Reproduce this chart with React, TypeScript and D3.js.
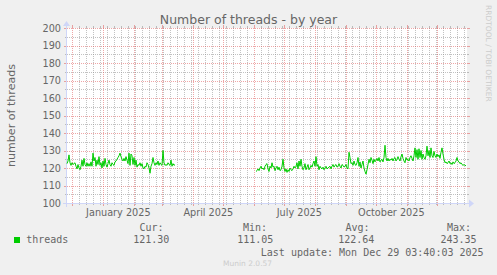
import React from "react";
import * as d3 from "d3";

const W = 497;
const H = 275;
const title = "Number of threads - by year";
const yTitle = "number of threads";
const seriesName = "threads";
const watermark = "RRDTOOL / TOBI OETIKER";
const version = "Munin 2.0.57";
const lastUpdate = "Last update: Mon Dec 29 03:40:03 2025";

const rangeStart = "2024-11-25T16:00:00Z";
const rangeEnd = "2025-12-30T16:00:00Z";

const seg1Start = "2024-11-25T16:00:00Z";
const seg1Values = [
  122.5, 124, 127.5, 123, 121.5, 123, 122, 122.5, 123, 121,
  119.5, 122, 120, 119, 121, 124.5, 121, 125.5, 122, 121,
  123, 121, 122.5, 121, 123.5, 121, 128.5, 124, 126, 121,
  124.5, 122, 126.5, 121.5, 123, 120, 124, 121, 125.5, 122,
  120.5, 122.5, 124.5, 122, 121, 123, 122, 121.5, 123.5, 124,
  125, 126, 127, 128.5, 126.5, 125, 124, 125.5, 124, 126.5,
  124.5, 122.5, 128.5, 121.5, 128, 127, 122, 126, 121.5, 124.5,
  120.5, 122, 121.5, 123, 121, 122.5, 120, 119.5, 121, 120.5,
  123, 122, 120, 117, 121, 122.5, 126, 123, 121.5, 123,
  122, 124, 121.5, 123, 122, 121.5, 130, 123, 121.5, 122,
  121.5, 123, 122, 121.5, 124.5, 121, 122.5, 121.5, 122,
];

const seg2Start = "2025-06-02T16:00:00Z";
const seg2Values = [
  118, 118.5, 119.5, 118.5, 120, 121, 119.5, 120, 119, 121,
  122, 122.5, 119.5, 118, 121, 120, 123, 120.5, 121, 118.5,
  120, 121, 119, 120.5, 118.5, 119, 121, 125, 120, 118,
  119.5, 117.5, 119, 118, 120, 119, 118.5, 119.5, 121, 120,
  121, 123, 119.5, 124, 121, 125, 121, 119, 120, 122.5,
  119, 120.5, 122, 119, 120, 121.5, 120.5, 122.5, 124, 121,
  126.5, 121, 122, 119, 121, 120, 119.5, 120.5, 119, 120,
  121, 119.5, 120, 120.5, 121, 119.5, 121, 122, 120.5, 121.5,
  122, 120.5, 121, 122.5, 121, 120, 122, 121.5, 120.5, 121,
  122, 120, 119.5, 129, 126, 122.5, 123, 121.5, 124, 122,
  121.5, 123, 126, 121, 123.5, 120, 122, 124, 120, 118,
  116.5, 119, 122, 125, 123, 126, 124.5, 122.5, 125, 123.5,
  124.5, 125.5, 124, 126, 123.5, 124.5, 125, 123.5, 126, 133,
  126, 124, 125.5, 124, 125, 124.5, 125.5, 124, 125.5, 126,
  124, 125, 126.5, 125, 124, 126.5, 128, 125.5, 124, 123,
  126, 124.5, 125, 124, 126, 127, 125.5, 124, 127, 131.5,
  126, 130.5, 125, 131, 126, 130, 125, 128, 126, 125,
  127, 132.5, 127, 130, 126, 131.5, 127, 126, 129.5, 127,
  126, 128, 126.5, 127.5, 125.5, 129, 131.5, 128, 125, 123,
  123.5, 122.5, 123, 124, 122.5, 123, 122, 123.5, 122.5, 123,
  124, 126, 124, 123.5, 122.5, 123, 122, 121.5, 122, 121.5,
  121.3,
];

const yMin = 100;
const yMax = 200;
const yMajorStep = 10;
const yMinorStep = 5;

const xLabelDates = ["2025-01-16T00:00:00Z", "2025-04-16T00:00:00Z", "2025-07-16T00:00:00Z", "2025-10-16T00:00:00Z"];
const xLabelTexts = ["January 2025", "April 2025", "July 2025", "October 2025"];

const legendHeaders = ["Cur:", "Min:", "Avg:", "Max:"];
const legendValues = ["121.30", "111.05", "122.64", "243.35"];
const legendHeaderX = [139.5, 243, 345.5, 447];
const legendValueX = [133.2, 237.2, 338.2, 440.4];

const X0 = 67;
const X1 = 467;
const Y0 = 203;
const Y1 = 28;

const SANS = "'DejaVu Sans', sans-serif";
const MONO = "'DejaVu Sans Mono', monospace";
const FONT_COLOR = "#666666";
const AXIS_COLOR = "#CFD6F8";
const MINOR = "rgba(143,143,143,0.55)";
const MAJOR = "rgba(222,79,79,0.5)";
const LINE_COLOR = "#00CC00";

type Pt = { t: Date; v: number | null };

function buildSeries(): Pt[] {
  const day = 86400000;
  const out: Pt[] = [];
  const s1 = new Date(seg1Start).getTime();
  seg1Values.forEach((v, i) => out.push({ t: new Date(s1 + i * day), v }));
  out.push({ t: new Date(s1 + seg1Values.length * day), v: null });
  const s2 = new Date(seg2Start).getTime();
  seg2Values.forEach((v, i) => out.push({ t: new Date(s2 + i * day), v }));
  return out;
}

export default function App() {
  const x = d3.scaleUtc().domain([new Date(rangeStart), new Date(rangeEnd)]).range([X0, X1]);
  const y = d3.scaleLinear().domain([yMin, yMax]).range([Y0, Y1]);
  const data = buildSeries();
  const line = d3
    .line<Pt>()
    .defined((d) => d.v !== null)
    .x((d) => x(d.t))
    .y((d) => y(d.v as number));

  const snap = (v: number) => Math.round(v) + 0.5;

  const yMinorTicks = d3.range(yMin, yMax + 0.001, yMinorStep).filter((v) => v % yMajorStep !== 0);
  const yMajorTicks = d3.range(yMin, yMax + 0.001, yMajorStep);

  const start = new Date(rangeStart);
  const end = new Date(rangeEnd);
  const months = d3.utcMonth.range(start, end);
  const monthSet = new Set(months.map((d) => d.getTime()));
  const weeks = d3.utcSunday.range(start, end).filter((d) => !monthSet.has(d.getTime()));

  const yb = snap(Y0);

  return (
    <svg
      width={W}
      height={H}
      style={{ position: "fixed", left: 0, top: 0, display: "block" }}
      xmlns="http://www.w3.org/2000/svg"
    >
      <rect x={0} y={0} width={W} height={H} fill="#F0F0F0" />
      <rect x={X0} y={Y1} width={X1 - X0} height={Y0 - Y1} fill="#FFFFFF" />

      {/* minor horizontal grid */}
      {yMinorTicks.map((v) => {
        const yy = snap(y(v));
        return (
          <g key={"hm" + v} shapeRendering="crispEdges">
            <line x1={X0} x2={X1} y1={yy} y2={yy} stroke={MINOR} strokeDasharray="1,1" />
            <line x1={X0 - 2} x2={X0} y1={yy} y2={yy} stroke={MINOR} />
            <line x1={X1} x2={X1 + 2} y1={yy} y2={yy} stroke={MINOR} />
          </g>
        );
      })}
      {/* minor vertical grid */}
      {weeks.map((d) => {
        const xx = snap(x(d));
        return (
          <g key={"vm" + d.getTime()} shapeRendering="crispEdges">
            <line x1={xx} x2={xx} y1={Y1} y2={Y0} stroke={MINOR} strokeDasharray="1,1" />
            <line x1={xx} x2={xx} y1={Y0} y2={Y0 + 2} stroke={MINOR} />
            <line x1={xx} x2={xx} y1={Y1 - 2} y2={Y1} stroke={MINOR} />
          </g>
        );
      })}
      {/* major horizontal grid */}
      {yMajorTicks.map((v) => {
        const yy = snap(y(v));
        return (
          <g key={"hM" + v} shapeRendering="crispEdges">
            <line x1={X0} x2={X1} y1={yy} y2={yy} stroke={MAJOR} strokeDasharray="1,1" />
            <line x1={X0 - 3} x2={X0} y1={yy} y2={yy} stroke={MAJOR} />
            <line x1={X1} x2={X1 + 3} y1={yy} y2={yy} stroke={MAJOR} />
          </g>
        );
      })}
      {/* major vertical grid */}
      {months.map((d) => {
        const xx = snap(x(d));
        return (
          <g key={"vM" + d.getTime()} shapeRendering="crispEdges">
            <line x1={xx} x2={xx} y1={Y1} y2={Y0} stroke={MAJOR} strokeDasharray="1,1" />
            <line x1={xx} x2={xx} y1={Y0} y2={Y0 + 3} stroke={MAJOR} />
            <line x1={xx} x2={xx} y1={Y1 - 3} y2={Y1} stroke={MAJOR} />
          </g>
        );
      })}

      {/* axes */}
      <g shapeRendering="crispEdges">
        <line x1={X0 - 4} x2={X1 + 3} y1={yb} y2={yb} stroke={AXIS_COLOR} />
        <line x1={snap(X0) - 1} x2={snap(X0) - 1} y1={Y0 + 4} y2={Y1 - 4} stroke={AXIS_COLOR} />
      </g>
      <path
        d={`M${X1 + 2},${Y0 - 3.5} L${X1 + 2},${Y0 + 4.5} L${X1 + 7},${Y0 + 0.5} Z`}
        fill={AXIS_COLOR}
      />
      <path
        d={`M${X0 - 4},${Y1 - 2} L${X0 + 3},${Y1 - 2} L${X0 - 0.5},${Y1 - 7} Z`}
        fill={AXIS_COLOR}
      />

      {/* data line */}
      <path d={line(data) || ""} fill="none" stroke={LINE_COLOR} strokeWidth={1} />

      {/* y labels */}
      {yMajorTicks.map((v) => (
        <text
          key={"yl" + v}
          x={61}
          y={y(v) + 3.5}
          textAnchor="end"
          fontFamily={SANS}
          fontSize={9.7}
          fill={FONT_COLOR}
        >
          {v}
        </text>
      ))}

      {/* x labels */}
      {xLabelDates.map((s, i) => (
        <text
          key={"xl" + i}
          x={x(new Date(s))}
          y={215.5}
          textAnchor="middle"
          fontFamily={SANS}
          fontSize={9.7}
          fill={FONT_COLOR}
        >
          {xLabelTexts[i]}
        </text>
      ))}

      {/* title */}
      <text x={248.5} y={24} textAnchor="middle" fontFamily={SANS} fontSize={12.5} fill={FONT_COLOR}>
        {title}
      </text>

      {/* y title */}
      <text
        transform={`translate(15, ${(Y0 + Y1) / 2}) rotate(-90)`}
        textAnchor="middle"
        fontFamily={SANS}
        fontSize={11.1}
        fill={FONT_COLOR}
      >
        {yTitle}
      </text>

      {/* watermark */}
      <text
        transform={`translate(485.5, 5) rotate(90)`}
        textAnchor="start"
        fontFamily={SANS}
        fontSize={7.5}
        fill="#CCCCCC"
      >
        {watermark}
      </text>

      {/* legend */}
      <rect x={14} y={237} width={6} height={6} fill={LINE_COLOR} />
      <text x={26.2} y={243.3} fontFamily={MONO} fontSize={10} fill={FONT_COLOR}>
        {seriesName}
      </text>
      {legendHeaders.map((h, i) => (
        <text key={"lh" + i} x={legendHeaderX[i]} y={231.3} fontFamily={MONO} fontSize={10} fill={FONT_COLOR}>
          {h}
        </text>
      ))}
      {legendValues.map((v, i) => (
        <text key={"lv" + i} x={legendValueX[i]} y={243.3} fontFamily={MONO} fontSize={10} fill={FONT_COLOR}>
          {v}
        </text>
      ))}
      <text x={260.8} y={255.5} fontFamily={MONO} fontSize={10} fill={FONT_COLOR}>
        {lastUpdate}
      </text>
      <text x={223} y={265.7} fontFamily={SANS} fontSize={7.5} fill="#CCCCCC">
        {version}
      </text>
    </svg>
  );
}
